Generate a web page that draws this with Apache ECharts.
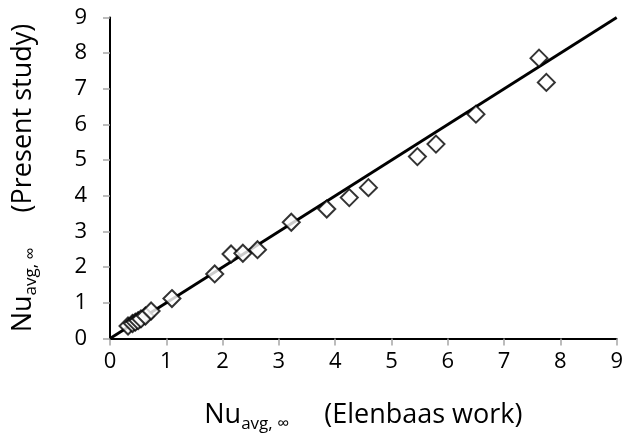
<!DOCTYPE html>
<html>
<head>
<meta charset="utf-8">
<script src="https://cdn.jsdelivr.net/npm/echarts@6/dist/echarts.min.js"></script>
<style>
  html, body { margin: 0; padding: 0; background: #fff; }
  #chart { width: 626px; height: 439px; }
</style>
</head>
<body>
<div id="chart"></div>
<script>
// Average Nusselt number: Elenbaas correlation (x) vs. present computations (y)
var elenbaas = [0.32, 0.40, 0.45, 0.50, 0.55, 0.63, 0.73, 1.10, 1.86, 2.15, 2.36, 2.62, 3.22, 3.85, 4.25, 4.59, 5.46, 5.79, 6.50, 7.62, 7.75];
var present  = [0.35, 0.42, 0.46, 0.50, 0.55, 0.63, 0.77, 1.12, 1.81, 2.37, 2.39, 2.49, 3.26, 3.63, 3.95, 4.23, 5.10, 5.45, 6.29, 7.86, 7.18];
// line of perfect agreement
var parityLine = [[0, 0], [9, 9]];
var axisMin = 0, axisMax = 9, axisStep = 1;

var points = elenbaas.map(function (x, i) { return [x, present[i]]; });

var FONT = '"Open Sans", Lato, sans-serif';
var rich = {
  n: { fontSize: 27, fontFamily: FONT, color: '#000' },
  s: { fontSize: 17, fontFamily: FONT, color: '#000', verticalAlign: 'top', padding: [17, 0, 0, 0] },
  t: { fontSize: 27, fontFamily: FONT, color: '#000' }
};

var chart = echarts.init(document.getElementById('chart'), null, { renderer: 'canvas' });
chart.setOption({
  animation: false,
  backgroundColor: '#fff',
  grid: { left: 110, right: 6, top: 17.5, bottom: 100.5, containLabel: false },
  xAxis: [{
    type: 'value', min: axisMin, max: axisMax, interval: axisStep,
    axisLine: { show: true, onZero: false, lineStyle: { color: '#a6a6a6', width: 1.5 } },
    axisTick: { show: true, inside: false, length: 7, lineStyle: { color: '#a6a6a6', width: 1.5 } },
    axisLabel: { fontSize: 22, fontFamily: FONT, color: '#000', margin: 12 },
    splitLine: { show: false },
    name: '{n|Nu}{s|avg, ∞}{t|     (Elenbaas work)}',
    nameLocation: 'middle', nameGap: 60,
    nameTextStyle: { rich: rich }
  }, {
    type: 'value', position: 'top', min: axisMin, max: axisMax,
    axisLine: { show: true, lineStyle: { color: '#000', width: 2 } },
    axisTick: { show: false }, axisLabel: { show: false }, splitLine: { show: false }
  }],
  yAxis: [{
    type: 'value', min: axisMin, max: axisMax, interval: axisStep,
    axisLine: { show: true, onZero: false, lineStyle: { color: '#a6a6a6', width: 1.5 } },
    axisTick: { show: true, inside: false, length: 7, lineStyle: { color: '#a6a6a6', width: 1.5 } },
    axisLabel: { fontSize: 22, fontFamily: FONT, color: '#000', margin: 23 },
    splitLine: { show: false },
    name: '{n|Nu}{s|avg, ∞}{t|     (Present study)}',
    nameLocation: 'middle', nameGap: 70, nameRotate: 90,
    nameTextStyle: { rich: rich }
  }, {
    type: 'value', position: 'right', min: axisMin, max: axisMax,
    axisLine: { show: true, lineStyle: { color: '#000', width: 2 } },
    axisTick: { show: false }, axisLabel: { show: false }, splitLine: { show: false }
  }],
  series: [{
    type: 'line',
    data: parityLine,
    showSymbol: false,
    symbol: 'none',
    lineStyle: { color: '#000', width: 2.8 },
    z: 2
  }, {
    type: 'scatter',
    data: points,
    symbol: 'diamond',
    symbolSize: 17,
    itemStyle: { color: '#fff', borderColor: '#000', borderWidth: 2 },
    z: 3
  }]
});
</script>
</body>
</html>
